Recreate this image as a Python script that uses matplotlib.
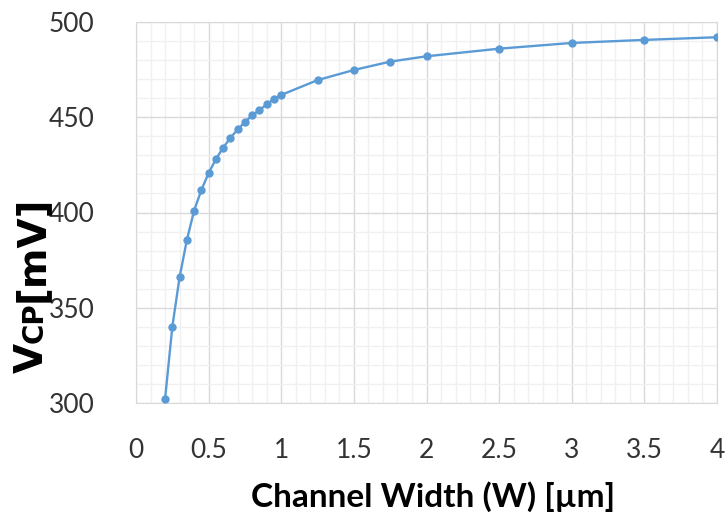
import matplotlib
matplotlib.use("Agg")
import matplotlib.pyplot as plt
from matplotlib.ticker import MultipleLocator

# channel width W [um] and VCP [mV]
width_um = [0.2, 0.25, 0.3, 0.35, 0.4, 0.45, 0.5, 0.55, 0.6, 0.65, 0.7, 0.75,
            0.8, 0.85, 0.9, 0.95, 1.0, 1.25, 1.5, 1.75, 2.0, 2.5, 3.0, 3.5, 4.0]
vcp_mv = [302, 340, 366, 385.5, 401, 411.8, 420.7, 428, 434, 439.2, 443.6, 447.5,
          451, 453.8, 456.7, 459.7, 461.7, 469.5, 474.8, 479.2, 482, 486, 489, 490.6, 492]

xticks = [0, 0.5, 1, 1.5, 2, 2.5, 3, 3.5, 4]
xticklabels = ['0', '0.5', '1', '1.5', '2', '2.5', '3', '3.5', '4']
yticks = [300, 350, 400, 450, 500]

plt.rcParams['font.family'] = ['Lato', 'DejaVu Sans']

W, H = 727, 515
fig = plt.figure(figsize=(W / 100, H / 100), dpi=100)
ax = fig.add_axes([136 / W, 1 - 403 / H, (717 - 136) / W, (403 - 22) / H])

ax.plot(width_um, vcp_mv, color='#5B9BD5', lw=1.7, marker='o', ms=5, zorder=3)

ax.set_xlim(0, 4)
ax.set_ylim(300, 500)
ax.set_xticks(xticks)
ax.set_xticklabels(xticklabels)
ax.set_yticks(yticks)
ax.xaxis.set_minor_locator(MultipleLocator(0.1))
ax.yaxis.set_minor_locator(MultipleLocator(10))
ax.grid(which='major', color='#D9D9D9', lw=1.0)
ax.grid(which='minor', color='#F0F0F0', lw=1.0)
ax.set_axisbelow(True)
ax.tick_params(which='both', length=0)
ax.tick_params(axis='y', labelsize=19, pad=30, colors='#333333')
ax.tick_params(axis='x', labelsize=19, pad=25, colors='#333333')
for s in ax.spines.values():
    s.set_color('#D9D9D9')

fig.text(433 / W, 8 / H, 'Channel Width (W) [\u00b5m]', ha='center', va='baseline',
         fontsize=24, fontweight='bold', color='black')

# y label: V, small-cap CP, [mV], stacked along the rotated baseline
fig.canvas.draw()
r = fig.canvas.get_renderer()
pos = 515 - 373
for piece, size in [('V', 28), ('CP', 20), ('[mV]', 28)]:
    t = fig.text(43 / W, pos / H, piece, rotation=90, rotation_mode='anchor',
                 ha='left', va='baseline', fontsize=size, fontweight='bold',
                 family='DejaVu Sans', color='black')
    pos = t.get_window_extent(r).y1

fig.savefig('out.png', dpi=100)
